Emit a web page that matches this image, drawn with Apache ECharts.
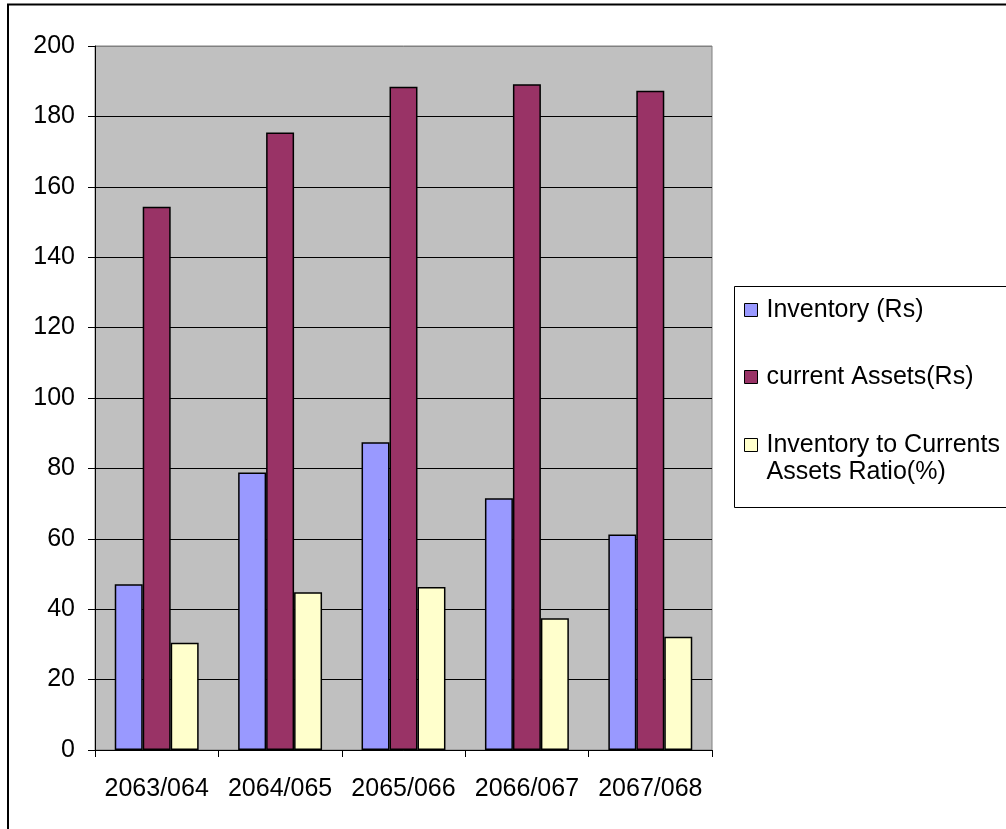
<!DOCTYPE html>
<html>
<head>
<meta charset="utf-8">
<title>Inventory to Current Assets</title>
<script src="https://cdn.jsdelivr.net/npm/echarts@6/dist/echarts.min.js"></script>
<style>
  html, body { margin: 0; padding: 0; background: #ffffff; }
  #chart { width: 1006px; height: 829px; }
</style>
</head>
<body>
<div id="chart"></div>
<script>
// Fiscal years (Nepali calendar)
const years = ['2063/064', '2064/065', '2065/066', '2066/067', '2067/068'];

// Inventory (Rs)
const inventory = [47.1, 78.8, 87.4, 71.5, 61.2];
// Current assets (Rs)
const currentAssets = [154.3, 175.4, 188.4, 189.1, 187.3];
// Inventory to current assets ratio (%)
const ratio = [30.5, 44.8, 46.3, 37.4, 32.2];

const seriesNames = ['Inventory (Rs)', 'current Assets(Rs)', 'Inventory to Currents\nAssets Ratio(%)'];
const seriesColors = ['#9999FF', '#993366', '#FFFFCC'];

const yMin = 0, yMax = 200, yStep = 20;

const FONT = '"Liberation Sans", Arial, sans-serif';
const FS = 25;
const LH = 27;

// grid lines: black inside, grey frame along the top
const splitColors = [];
for (let v = yMin; v <= yMax; v += yStep) splitColors.push(v === yMax ? '#808080' : '#000000');

// one legend per entry so each can sit at its own height;
// the two-line entry gets a blank leading line so its icon lines up with the first text line
function legendFor(name, top, leadBlank) {
  return {
    data: [name],
    orient: 'vertical',
    left: 744,
    top: top,
    padding: 0,
    itemWidth: 13,
    itemHeight: 13,
    icon: 'rect',
    selectedMode: false,
    formatter: leadBlank ? (n => '\n' + n) : (n => n),
    itemStyle: { borderColor: '#000000', borderWidth: 1 },
    textStyle: {
      color: '#000000',
      fontSize: FS,
      fontFamily: FONT,
      lineHeight: LH,
      padding: [0, 0, 0, 4]
    }
  };
}

const chart = echarts.init(document.getElementById('chart'), null, { renderer: 'canvas' });

chart.setOption({
  animation: false,
  backgroundColor: '#ffffff',
  textStyle: { fontFamily: FONT, color: '#000000' },
  grid: {
    left: 95,
    top: 46,
    right: 294,
    bottom: 79,
    show: true,
    backgroundColor: '#C0C0C0',
    borderColor: '#808080',
    borderWidth: 1
  },
  legend: [
    legendFor(seriesNames[0], 296.5, false),
    legendFor(seriesNames[1], 363.5, false),
    legendFor(seriesNames[2], 404.5, true)
  ],
  xAxis: {
    type: 'category',
    data: years,
    boundaryGap: true,
    axisLine: { show: true, lineStyle: { color: '#000000', width: 1 } },
    axisTick: { show: true, interval: 0, length: 7, lineStyle: { color: '#000000' } },
    axisLabel: { interval: 0, margin: 27, fontSize: FS, color: '#000000', fontFamily: FONT },
    splitLine: { show: false }
  },
  yAxis: {
    type: 'value',
    min: yMin,
    max: yMax,
    interval: yStep,
    axisLine: { show: true, lineStyle: { color: '#000000', width: 1 } },
    axisTick: { show: true, length: 7, lineStyle: { color: '#000000' } },
    axisLabel: { margin: 20, fontSize: FS, color: '#000000', fontFamily: FONT },
    splitLine: { show: true, lineStyle: { color: splitColors, width: 1 } }
  },
  series: [
    { name: seriesNames[0], data: inventory },
    { name: seriesNames[1], data: currentAssets },
    { name: seriesNames[2], data: ratio }
  ].map((s, i) => ({
    type: 'bar',
    name: s.name,
    data: s.data,
    barGap: '0%',
    barCategoryGap: '32%',
    itemStyle: { color: seriesColors[i], borderColor: '#000000', borderWidth: 1.5 },
    emphasis: { disabled: true }
  })),
  graphic: [
    {
      type: 'rect',
      shape: { x: 8, y: 4.5, width: 1100, height: 1000 },
      style: { fill: 'none', stroke: '#000000', lineWidth: 2 },
      silent: true,
      z: 100
    },
    {
      type: 'rect',
      shape: { x: 734.5, y: 286.5, width: 400, height: 221 },
      style: { fill: 'none', stroke: '#000000', lineWidth: 1 },
      silent: true,
      z: 100
    }
  ]
});
</script>
</body>
</html>
